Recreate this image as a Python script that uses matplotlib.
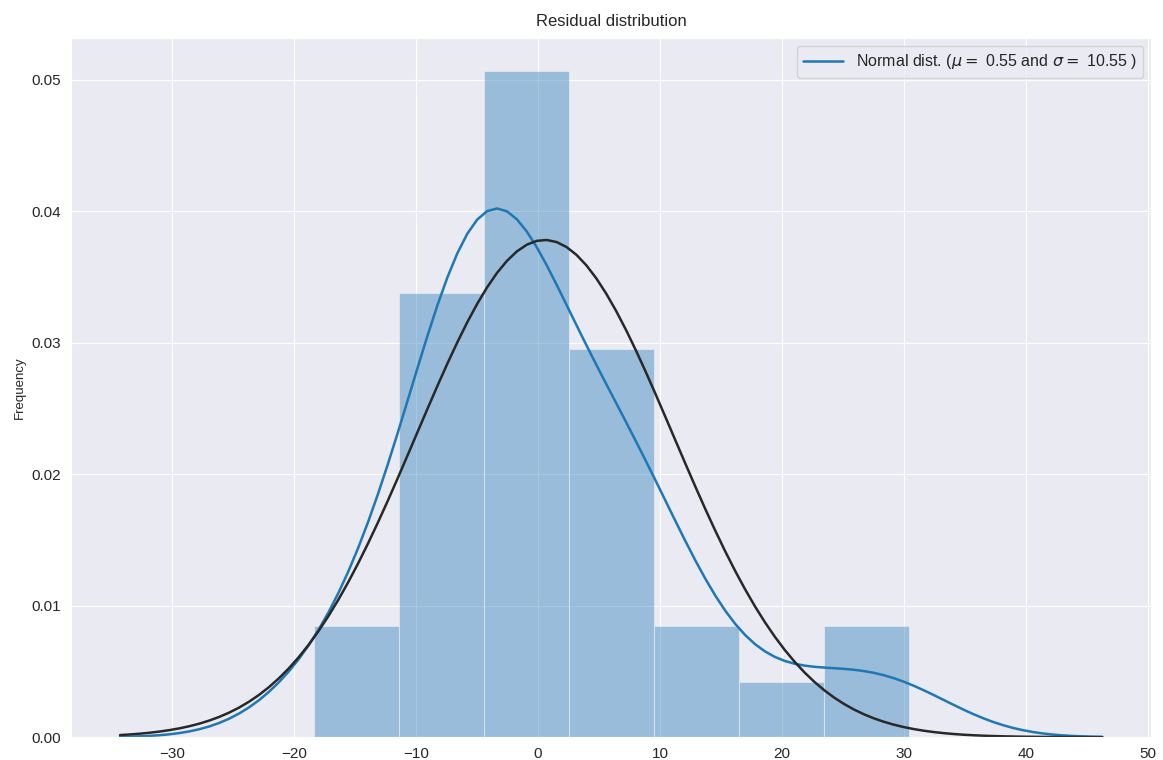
import numpy as np
import matplotlib
matplotlib.use("Agg")
import matplotlib.pyplot as plt
import seaborn as sns

# residuals estimated from the histogram (34 observations)
residuals = np.array([
    -18.4, -14.7,
    -10.8, -11.0, -9.8, -8.6, -7.5, -6.5, -5.0, -4.6,
    -4.0, -3.8, -4.1, -3.9, -3.6, -3.3, -3.0, -2.5, -1.8, -1.7, 1.9, 1.3,
    3.1, 4.5, 5.5, 6.5, 7.5, 8.5, 9.3,
    10.0, 13.0,
    20.0,
    25.8, 30.4,
])
n_bins = 7
title = "Residual distribution"
ylabel = "Frequency"

sns.set_style("darkgrid")
plt.rcParams["font.family"] = ["Liberation Sans", "DejaVu Sans"]

fig = plt.figure(figsize=(11.63, 7.6), dpi=100)
ax = fig.add_axes([0.061, 0.030, 0.929, 0.920])

blue = "#1f77b4"

# histogram
ax.hist(residuals, bins=n_bins, density=True, color=blue, alpha=0.4,
        edgecolor="white", linewidth=0.8)

# gaussian kde with scott bandwidth, cut=3
n = len(residuals)
bw = residuals.std(ddof=1) * n ** (-1 / 5)
support = np.linspace(residuals.min() - 3 * bw, residuals.max() + 3 * bw, 100)
kde = np.exp(-0.5 * ((support[:, None] - residuals[None, :]) / bw) ** 2).sum(axis=1)
kde = kde / (n * bw * np.sqrt(2 * np.pi))
ax.plot(support, kde, color=blue, lw=1.8)

# normal fit
mu = residuals.mean()
sigma = residuals.std()
pdf = np.exp(-0.5 * ((support - mu) / sigma) ** 2) / (sigma * np.sqrt(2 * np.pi))
ax.plot(support, pdf, color="#282828", lw=1.8)

ax.legend(['Normal dist. ($\\mu=$ {:.2f} and $\\sigma=$ {:.2f} )'.format(mu, sigma)],
          loc="best", fontsize=11.5, handlelength=2.5)
ax.set_ylabel(ylabel, fontsize=9.5)
ax.set_title(title, fontsize=12, pad=9)
ax.tick_params(labelsize=11)

fig.savefig("out.png", dpi=100)
